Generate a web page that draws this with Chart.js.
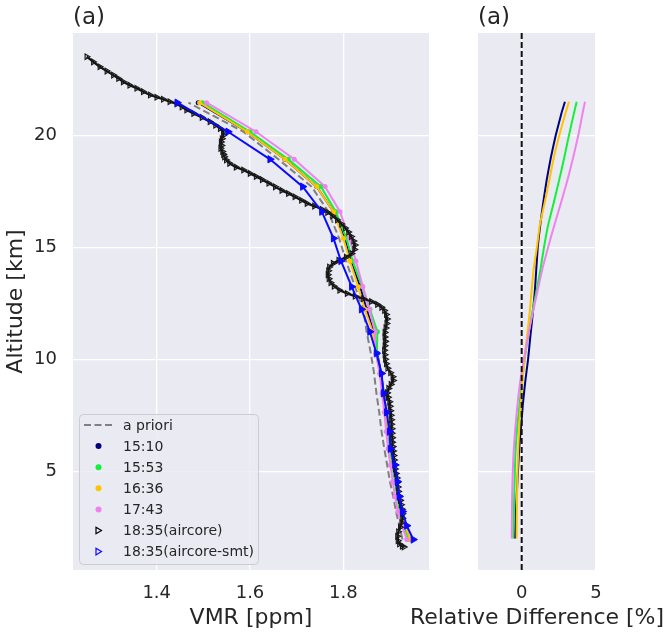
<!DOCTYPE html>
<html>
<head>
<meta charset="utf-8">
<script src="https://cdn.jsdelivr.net/npm/chart.js@4.4.0/dist/chart.umd.min.js"></script>
<style>
body { margin: 0; background: #fff; }
#wrap { position: relative; width: 671px; height: 636px; }
#left { position: absolute; left: 0; top: 0; }
#right { position: absolute; left: 400px; top: 0; }
</style>
</head>
<body>
<div id="wrap">
  <canvas id="left" width="440" height="636"></canvas>
  <canvas id="right" width="271" height="636"></canvas>
</div>
<script>
// retrieval levels [km]
const levels = [1.95, 2.57, 3.2, 3.87, 4.54, 5.28, 6.0, 6.77, 7.63, 8.48, 9.37, 10.27, 11.23, 12.23, 13.24, 14.39, 15.40, 16.59, 17.71, 18.93, 20.16, 21.46];
const apriori = [1.927, 1.920, 1.913, 1.907, 1.900, 1.894, 1.888, 1.882, 1.877, 1.871, 1.866, 1.859, 1.850, 1.843, 1.825, 1.806, 1.791, 1.768, 1.732, 1.661, 1.586, 1.468];
const vmr1510 = [1.942, 1.932, 1.924, 1.918, 1.913, 1.907, 1.901, 1.897, 1.892, 1.887, 1.881, 1.873, 1.865, 1.850, 1.836, 1.816, 1.803, 1.779, 1.743, 1.675, 1.594, 1.489];
const vmr1553 = [1.940, 1.930, 1.921, 1.916, 1.911, 1.906, 1.900, 1.896, 1.891, 1.886, 1.880, 1.872, 1.873, 1.857, 1.841, 1.820, 1.807, 1.784, 1.752, 1.682, 1.600, 1.498];
const vmr1636 = [1.943, 1.933, 1.925, 1.919, 1.914, 1.908, 1.902, 1.897, 1.892, 1.886, 1.879, 1.870, 1.863, 1.846, 1.832, 1.814, 1.800, 1.779, 1.743, 1.675, 1.594, 1.492];
const vmr1743 = [1.936, 1.926, 1.917, 1.911, 1.906, 1.901, 1.896, 1.892, 1.888, 1.883, 1.878, 1.870, 1.868, 1.856, 1.842, 1.827, 1.813, 1.793, 1.761, 1.695, 1.613, 1.507];
const smtVmr = [1.950, 1.936, 1.927, 1.920, 1.916, 1.911, 1.901, 1.899, 1.893, 1.886, 1.882, 1.871, 1.857, 1.839, 1.818, 1.795, 1.779, 1.754, 1.713, 1.643, 1.553, 1.444];

// aircore profile (raw)
const aircoreAlt = [23.51, 23.28, 23.06, 22.87, 22.69, 22.54, 22.39, 22.24, 22.10, 21.95, 21.80, 21.70, 21.61, 21.50, 21.40, 21.27, 21.13, 20.98, 20.80, 20.61,
  20.45, 20.31, 20.15, 20.00, 19.85, 19.70, 19.55, 19.42, 19.28, 19.15, 19.04, 18.90, 18.75, 18.58, 18.45, 18.30, 18.16, 18.02, 17.86, 17.70,
  17.54, 17.40, 17.26, 17.10, 16.96, 16.84, 16.70, 16.56, 16.40, 16.22, 16.04, 15.86, 15.68, 15.48, 15.28, 15.10, 14.90, 14.72, 14.56, 14.42,
  14.28, 14.12, 13.95, 13.78, 13.60, 13.42, 13.26, 13.08, 12.94, 12.82, 12.70, 12.58, 12.45, 12.32, 12.18, 12.00, 11.80, 11.60, 11.40, 11.20,
  11.00, 10.80, 10.60, 10.40, 10.20, 10.00, 9.80, 9.60, 9.40, 9.22, 9.05, 8.88, 8.70, 8.50, 8.30, 8.10, 7.90, 7.70, 7.50, 7.30,
  7.10, 6.90, 6.70, 6.50, 6.30, 6.10, 5.90, 5.70, 5.50, 5.30, 5.10, 4.90, 4.70, 4.50, 4.30, 4.10, 3.90, 3.70, 3.50, 3.30,
  3.10, 2.90, 2.70, 2.50, 2.30, 2.10, 1.90, 1.75, 1.65, 1.62];
const aircoreVmr = [1.250, 1.264, 1.278, 1.293, 1.307, 1.318, 1.328, 1.342, 1.357, 1.371, 1.386, 1.400, 1.414, 1.428, 1.443, 1.454, 1.464, 1.479, 1.497, 1.514,
  1.526, 1.536, 1.543, 1.543, 1.540, 1.538, 1.539, 1.537, 1.541, 1.543, 1.545, 1.549, 1.556, 1.570, 1.586, 1.600, 1.613, 1.626, 1.640, 1.654,
  1.668, 1.682, 1.696, 1.710, 1.722, 1.738, 1.754, 1.766, 1.777, 1.787, 1.796, 1.804, 1.811, 1.817, 1.822, 1.825, 1.824, 1.818, 1.806, 1.790,
  1.778, 1.770, 1.768, 1.767, 1.769, 1.773, 1.780, 1.792, 1.808, 1.825, 1.843, 1.860, 1.873, 1.882, 1.888, 1.892, 1.894, 1.893, 1.891, 1.889,
  1.889, 1.890, 1.889, 1.888, 1.889, 1.890, 1.892, 1.895, 1.901, 1.906, 1.907, 1.902, 1.897, 1.894, 1.896, 1.899, 1.900, 1.901, 1.902, 1.903,
  1.903, 1.904, 1.904, 1.905, 1.905, 1.906, 1.907, 1.908, 1.909, 1.910, 1.911, 1.913, 1.915, 1.916, 1.917, 1.918, 1.920, 1.922, 1.924, 1.926,
  1.927, 1.927, 1.925, 1.922, 1.918, 1.916, 1.917, 1.920, 1.926, 1.930];

// relative difference panel
const rdAlt = [2, 3, 4, 5, 6, 7, 8, 9, 10, 11, 12, 13, 14, 15, 16, 17, 18, 19, 20, 21, 21.5];
const rd1510 = [-0.45, -0.40, -0.33, -0.25, -0.17, -0.04, 0.08, 0.24, 0.43, 0.58, 0.74, 0.88, 0.98, 1.08, 1.25, 1.45, 1.68, 1.96, 2.29, 2.68, 2.91];
const rd1553 = [-0.56, -0.53, -0.50, -0.46, -0.41, -0.30, -0.14, 0.02, 0.20, 0.42, 0.68, 0.98, 1.26, 1.50, 1.78, 2.16, 2.52, 2.86, 3.18, 3.52, 3.70];
const rd1636 = [-0.34, -0.33, -0.31, -0.28, -0.23, -0.16, -0.06, 0.05, 0.19, 0.36, 0.52, 0.66, 0.80, 1.02, 1.22, 1.55, 1.86, 2.16, 2.53, 2.95, 3.18];
const rd1743 = [-0.67, -0.66, -0.64, -0.60, -0.53, -0.42, -0.28, -0.10, 0.15, 0.42, 0.72, 1.05, 1.38, 1.78, 2.20, 2.65, 3.08, 3.46, 3.81, 4.10, 4.26];
const zeroX = [0, 0];
const zeroY = [0.59, 24.57];

const xTicksLeft = [1.4, 1.6, 1.8];
const xTicksRight = [0, 5];
const yTicks = [5, 10, 15, 20];

const FONT = "'DejaVu Sans', sans-serif";
const TXT = '#262626';
const LABEL_SIZE = 22;
const TICK_SIZE = 18;
const C = { navy: '#000080', green: '#12f03a', orange: '#ffc300', violet: '#ee82ee', blue: '#0a0aff' };

function pts(xs, ys) {
  return xs.map((x, i) => ({ x: x, y: ys[i] }));
}

const panelBg = {
  id: 'panelBg',
  beforeDraw(chart) {
    const a = chart.chartArea, ctx = chart.ctx;
    ctx.save();
    ctx.fillStyle = '#eaeaf2';
    ctx.fillRect(a.left, a.top, a.right - a.left, a.bottom - a.top);
    ctx.restore();
  }
};

const panelTitle = {
  id: 'panelTitle',
  afterDraw(chart) {
    const ctx = chart.ctx;
    ctx.save();
    ctx.font = '23px ' + FONT;
    ctx.fillStyle = TXT;
    ctx.textBaseline = 'alphabetic';
    ctx.fillText('(a)', chart.chartArea.left, 24);
    ctx.restore();
  }
};

// x label of the narrow panel is wider than the panel, so it is drawn here
const rightLabel = {
  id: 'rightLabel',
  afterDraw(chart) {
    const a = chart.chartArea, ctx = chart.ctx;
    ctx.save();
    ctx.font = LABEL_SIZE + 'px ' + FONT;
    ctx.fillStyle = TXT;
    ctx.textAlign = 'center';
    ctx.textBaseline = 'middle';
    ctx.fillText('Relative Difference [%]', (a.left + a.right) / 2, 618);
    ctx.restore();
  }
};

// legend box in the lower left of the VMR panel
const legendBox = {
  id: 'legendBox',
  afterDraw(chart) {
    const ctx = chart.ctx;
    const x0 = 79.5, y0 = 414.5, w = 179, h = 150, r = 4;
    ctx.save();
    ctx.beginPath();
    ctx.moveTo(x0 + r, y0);
    ctx.arcTo(x0 + w, y0, x0 + w, y0 + h, r);
    ctx.arcTo(x0 + w, y0 + h, x0, y0 + h, r);
    ctx.arcTo(x0, y0 + h, x0, y0, r);
    ctx.arcTo(x0, y0, x0 + w, y0, r);
    ctx.closePath();
    ctx.fillStyle = 'rgba(234,234,242,0.8)';
    ctx.fill();
    ctx.strokeStyle = '#cccccc';
    ctx.lineWidth = 1;
    ctx.stroke();

    const items = [
      { text: 'a priori', kind: 'dash', color: '#808080' },
      { text: '15:10', kind: 'dot', color: C.navy },
      { text: '15:53', kind: 'dot', color: C.green },
      { text: '16:36', kind: 'dot', color: C.orange },
      { text: '17:43', kind: 'dot', color: C.violet },
      { text: '18:35(aircore)', kind: 'tri', color: '#000000' },
      { text: '18:35(aircore-smt)', kind: 'tri', color: C.blue }
    ];
    ctx.font = '14px ' + FONT;
    ctx.textBaseline = 'middle';
    items.forEach((it, i) => {
      const y = 425 + i * 21.1;
      if (it.kind === 'dash') {
        ctx.strokeStyle = it.color;
        ctx.lineWidth = 2;
        ctx.setLineDash([7, 3.5]);
        ctx.beginPath();
        ctx.moveTo(84, y);
        ctx.lineTo(113, y);
        ctx.stroke();
        ctx.setLineDash([]);
      } else if (it.kind === 'dot') {
        ctx.fillStyle = it.color;
        ctx.beginPath();
        ctx.arc(98.5, y, 3, 0, Math.PI * 2);
        ctx.fill();
      } else {
        ctx.strokeStyle = it.color;
        ctx.lineWidth = 1.2;
        ctx.beginPath();
        ctx.moveTo(96, y - 3.3);
        ctx.lineTo(101.5, y);
        ctx.lineTo(96, y + 3.3);
        ctx.closePath();
        ctx.stroke();
      }
      ctx.fillStyle = TXT;
      ctx.fillText(it.text, 123, y + 1);
    });
    ctx.restore();
  }
};

function retrievalSet(xs, color, ord) {
  return {
    data: pts(xs, levels), showLine: true, borderColor: color, backgroundColor: color,
    borderWidth: 2, pointRadius: 2.5, pointBorderWidth: 0, order: ord
  };
}

function rdSet(xs, color, ord) {
  return {
    data: pts(xs, rdAlt), showLine: true, borderColor: color, borderWidth: 2,
    pointRadius: 0, tension: 0.15, order: ord
  };
}

function yScale(width, showLabels) {
  return {
    type: 'linear', min: 0.59, max: 24.57,
    afterBuildTicks: s => { s.ticks = yTicks.map(v => ({ value: v })); },
    afterFit: s => { s.width = width; },
    grid: { color: '#ffffff', lineWidth: 1.3, drawTicks: false },
    border: { display: false },
    ticks: { display: showLabels, padding: 16, color: TXT, font: { family: FONT, size: TICK_SIZE } },
    title: { display: showLabels, text: 'Altitude [km]', color: TXT, font: { family: FONT, size: LABEL_SIZE }, padding: { top: 3, bottom: 0 } }
  };
}

function xScale(min, max, ticks, label, fmt) {
  return {
    type: 'linear', min: min, max: max,
    afterBuildTicks: s => { s.ticks = ticks.map(v => ({ value: v })); },
    afterFit: s => { s.height = 66; },
    grid: { color: '#ffffff', lineWidth: 1.3, drawTicks: false },
    border: { display: false },
    ticks: { padding: 13, color: TXT, font: { family: FONT, size: TICK_SIZE }, callback: fmt, maxRotation: 0 },
    title: { display: label !== '', text: label, color: TXT, font: { family: FONT, size: LABEL_SIZE }, padding: { top: 0, bottom: 5 } }
  };
}

new Chart(document.getElementById('left'), {
  type: 'scatter',
  data: {
    datasets: [
      { data: pts(apriori, levels), showLine: true, borderColor: '#808080', borderWidth: 2, borderDash: [7, 3.5], pointRadius: 0, order: 7 },
      retrievalSet(vmr1510, C.navy, 6),
      retrievalSet(vmr1553, C.green, 5),
      retrievalSet(vmr1636, C.orange, 4),
      retrievalSet(vmr1743, C.violet, 3),
      { data: pts(aircoreVmr, aircoreAlt), showLine: true, borderColor: '#111111', borderWidth: 2.2,
        pointStyle: 'triangle', rotation: 90, pointRadius: 3.2, pointBorderWidth: 1.2,
        pointBorderColor: '#1a1a1a', pointBackgroundColor: 'rgba(0,0,0,0)', order: 2 },
      { data: pts(smtVmr, levels), showLine: true, borderColor: C.blue, borderWidth: 2,
        pointStyle: 'triangle', rotation: 90, pointRadius: 4.2, pointBorderWidth: 1,
        pointBorderColor: C.blue, pointBackgroundColor: C.blue, order: 1 }
    ]
  },
  options: {
    responsive: false, animation: false, events: [],
    layout: { padding: { left: 0, right: 11, top: 33, bottom: 0 } },
    plugins: { legend: { display: false }, tooltip: { enabled: false } },
    scales: {
      x: xScale(1.2206, 1.9837, xTicksLeft, 'VMR [ppm]', v => v.toFixed(1)),
      y: yScale(73, true)
    }
  },
  plugins: [panelBg, panelTitle, legendBox]
});

new Chart(document.getElementById('right'), {
  type: 'scatter',
  data: {
    datasets: [
      rdSet(rd1510, C.navy, 5),
      rdSet(rd1553, C.green, 4),
      rdSet(rd1636, C.orange, 3),
      rdSet(rd1743, C.violet, 2),
      { data: pts(zeroX, zeroY), showLine: true, borderColor: '#111111', borderWidth: 2, borderDash: [6, 3], pointRadius: 0, order: 1 }
    ]
  },
  options: {
    responsive: false, animation: false, events: [],
    layout: { padding: { left: 78, right: 75, top: 33, bottom: 0 } },
    plugins: { legend: { display: false }, tooltip: { enabled: false } },
    scales: {
      x: xScale(-2.94, 5.0, xTicksRight, '', v => String(v)),
      y: yScale(0, false)
    }
  },
  plugins: [panelBg, panelTitle, rightLabel]
});
</script>
</body>
</html>
